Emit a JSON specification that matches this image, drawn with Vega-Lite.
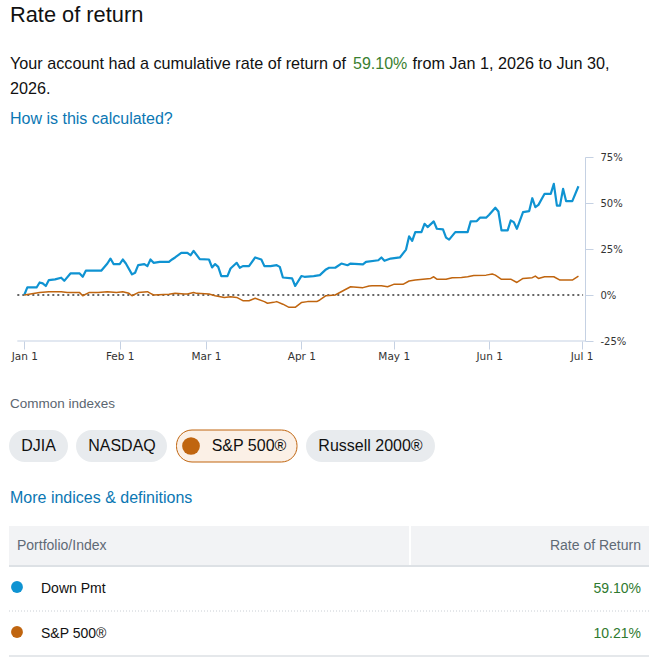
{
  "$schema": "https://vega.github.io/schema/vega-lite/v6.json",
  "background": "white",
  "padding": 0,
  "spacing": 0,
  "bounds": "flush",
  "config": {"view": {"stroke": null}, "text": {"font": "Liberation Sans"}},
  "datasets": {
    "header": [
      {"text": "Rate of return", "line": 0, "seg": 0, "kind": "title"},
      {"text": "Your account had a cumulative rate of return of", "line": 1, "seg": 0, "kind": "body"},
      {"text": "59.10%", "line": 1, "seg": 1, "kind": "gain"},
      {"text": "from Jan 1, 2026 to Jun 30,", "line": 1, "seg": 2, "kind": "body"},
      {"text": "2026.", "line": 2, "seg": 0, "kind": "body"},
      {"text": "How is this calculated?", "line": 3, "seg": 0, "kind": "link"}
    ],
    "returns": [
      {"series": "Down Pmt", "date": "2026-01-01", "value": 0},
      {"series": "Down Pmt", "date": "2026-01-02", "value": 4.1},
      {"series": "Down Pmt", "date": "2026-01-05", "value": 4.1},
      {"series": "Down Pmt", "date": "2026-01-06", "value": 6.8},
      {"series": "Down Pmt", "date": "2026-01-07", "value": 6.3},
      {"series": "Down Pmt", "date": "2026-01-08", "value": 4.9},
      {"series": "Down Pmt", "date": "2026-01-09", "value": 8.1},
      {"series": "Down Pmt", "date": "2026-01-11", "value": 8.5},
      {"series": "Down Pmt", "date": "2026-01-13", "value": 9.4},
      {"series": "Down Pmt", "date": "2026-01-14", "value": 7.7},
      {"series": "Down Pmt", "date": "2026-01-16", "value": 11.7},
      {"series": "Down Pmt", "date": "2026-01-19", "value": 11.7},
      {"series": "Down Pmt", "date": "2026-01-20", "value": 9.9},
      {"series": "Down Pmt", "date": "2026-01-21", "value": 13.2},
      {"series": "Down Pmt", "date": "2026-01-26", "value": 13.2},
      {"series": "Down Pmt", "date": "2026-01-28", "value": 17.1},
      {"series": "Down Pmt", "date": "2026-01-29", "value": 19.8},
      {"series": "Down Pmt", "date": "2026-01-30", "value": 16.8},
      {"series": "Down Pmt", "date": "2026-02-01", "value": 16.8},
      {"series": "Down Pmt", "date": "2026-02-02", "value": 19.3},
      {"series": "Down Pmt", "date": "2026-02-03", "value": 17.1},
      {"series": "Down Pmt", "date": "2026-02-05", "value": 11.2},
      {"series": "Down Pmt", "date": "2026-02-06", "value": 12.1},
      {"series": "Down Pmt", "date": "2026-02-07", "value": 16.2},
      {"series": "Down Pmt", "date": "2026-02-09", "value": 16.8},
      {"series": "Down Pmt", "date": "2026-02-10", "value": 15.7},
      {"series": "Down Pmt", "date": "2026-02-11", "value": 19.3},
      {"series": "Down Pmt", "date": "2026-02-12", "value": 17.5},
      {"series": "Down Pmt", "date": "2026-02-14", "value": 18.0},
      {"series": "Down Pmt", "date": "2026-02-17", "value": 18.0},
      {"series": "Down Pmt", "date": "2026-02-18", "value": 19.3},
      {"series": "Down Pmt", "date": "2026-02-19", "value": 20.4},
      {"series": "Down Pmt", "date": "2026-02-21", "value": 22.9},
      {"series": "Down Pmt", "date": "2026-02-23", "value": 22.9},
      {"series": "Down Pmt", "date": "2026-02-24", "value": 21.6},
      {"series": "Down Pmt", "date": "2026-02-25", "value": 24.0},
      {"series": "Down Pmt", "date": "2026-02-27", "value": 19.5},
      {"series": "Down Pmt", "date": "2026-03-02", "value": 19.3},
      {"series": "Down Pmt", "date": "2026-03-03", "value": 15.0},
      {"series": "Down Pmt", "date": "2026-03-04", "value": 16.8},
      {"series": "Down Pmt", "date": "2026-03-05", "value": 15.3},
      {"series": "Down Pmt", "date": "2026-03-06", "value": 10.3},
      {"series": "Down Pmt", "date": "2026-03-08", "value": 10.3},
      {"series": "Down Pmt", "date": "2026-03-09", "value": 14.4},
      {"series": "Down Pmt", "date": "2026-03-11", "value": 17.5},
      {"series": "Down Pmt", "date": "2026-03-12", "value": 14.8},
      {"series": "Down Pmt", "date": "2026-03-13", "value": 15.7},
      {"series": "Down Pmt", "date": "2026-03-15", "value": 15.7},
      {"series": "Down Pmt", "date": "2026-03-17", "value": 20.4},
      {"series": "Down Pmt", "date": "2026-03-19", "value": 19.3},
      {"series": "Down Pmt", "date": "2026-03-20", "value": 15.7},
      {"series": "Down Pmt", "date": "2026-03-22", "value": 15.7},
      {"series": "Down Pmt", "date": "2026-03-24", "value": 16.2},
      {"series": "Down Pmt", "date": "2026-03-25", "value": 15.3},
      {"series": "Down Pmt", "date": "2026-03-26", "value": 9.5},
      {"series": "Down Pmt", "date": "2026-03-29", "value": 9.0},
      {"series": "Down Pmt", "date": "2026-03-30", "value": 4.9},
      {"series": "Down Pmt", "date": "2026-04-01", "value": 10.3},
      {"series": "Down Pmt", "date": "2026-04-02", "value": 9.9},
      {"series": "Down Pmt", "date": "2026-04-05", "value": 10.3},
      {"series": "Down Pmt", "date": "2026-04-07", "value": 10.8},
      {"series": "Down Pmt", "date": "2026-04-09", "value": 13.9},
      {"series": "Down Pmt", "date": "2026-04-10", "value": 14.8},
      {"series": "Down Pmt", "date": "2026-04-12", "value": 14.8},
      {"series": "Down Pmt", "date": "2026-04-14", "value": 17.1},
      {"series": "Down Pmt", "date": "2026-04-16", "value": 16.2},
      {"series": "Down Pmt", "date": "2026-04-17", "value": 17.1},
      {"series": "Down Pmt", "date": "2026-04-21", "value": 16.6},
      {"series": "Down Pmt", "date": "2026-04-22", "value": 18.0},
      {"series": "Down Pmt", "date": "2026-04-26", "value": 18.9},
      {"series": "Down Pmt", "date": "2026-04-27", "value": 20.4},
      {"series": "Down Pmt", "date": "2026-04-28", "value": 18.6},
      {"series": "Down Pmt", "date": "2026-04-30", "value": 19.8},
      {"series": "Down Pmt", "date": "2026-05-03", "value": 20.4},
      {"series": "Down Pmt", "date": "2026-05-05", "value": 24.7},
      {"series": "Down Pmt", "date": "2026-05-06", "value": 31.9},
      {"series": "Down Pmt", "date": "2026-05-07", "value": 29.4},
      {"series": "Down Pmt", "date": "2026-05-08", "value": 34.2},
      {"series": "Down Pmt", "date": "2026-05-10", "value": 34.2},
      {"series": "Down Pmt", "date": "2026-05-11", "value": 38.7},
      {"series": "Down Pmt", "date": "2026-05-12", "value": 36.9},
      {"series": "Down Pmt", "date": "2026-05-14", "value": 40.0},
      {"series": "Down Pmt", "date": "2026-05-15", "value": 36.0},
      {"series": "Down Pmt", "date": "2026-05-17", "value": 35.7},
      {"series": "Down Pmt", "date": "2026-05-18", "value": 31.2},
      {"series": "Down Pmt", "date": "2026-05-19", "value": 30.1},
      {"series": "Down Pmt", "date": "2026-05-21", "value": 34.2},
      {"series": "Down Pmt", "date": "2026-05-25", "value": 34.2},
      {"series": "Down Pmt", "date": "2026-05-26", "value": 40.0},
      {"series": "Down Pmt", "date": "2026-05-28", "value": 40.2},
      {"series": "Down Pmt", "date": "2026-05-29", "value": 42.0},
      {"series": "Down Pmt", "date": "2026-05-31", "value": 42.0},
      {"series": "Down Pmt", "date": "2026-06-01", "value": 43.6},
      {"series": "Down Pmt", "date": "2026-06-03", "value": 47.4},
      {"series": "Down Pmt", "date": "2026-06-04", "value": 45.4},
      {"series": "Down Pmt", "date": "2026-06-05", "value": 35.1},
      {"series": "Down Pmt", "date": "2026-06-07", "value": 35.1},
      {"series": "Down Pmt", "date": "2026-06-08", "value": 40.5},
      {"series": "Down Pmt", "date": "2026-06-09", "value": 39.6},
      {"series": "Down Pmt", "date": "2026-06-10", "value": 36.0},
      {"series": "Down Pmt", "date": "2026-06-12", "value": 45.0},
      {"series": "Down Pmt", "date": "2026-06-14", "value": 45.6},
      {"series": "Down Pmt", "date": "2026-06-15", "value": 52.6},
      {"series": "Down Pmt", "date": "2026-06-16", "value": 47.7},
      {"series": "Down Pmt", "date": "2026-06-17", "value": 49.0},
      {"series": "Down Pmt", "date": "2026-06-19", "value": 55.0},
      {"series": "Down Pmt", "date": "2026-06-21", "value": 55.0},
      {"series": "Down Pmt", "date": "2026-06-22", "value": 60.4},
      {"series": "Down Pmt", "date": "2026-06-23", "value": 48.6},
      {"series": "Down Pmt", "date": "2026-06-24", "value": 48.6},
      {"series": "Down Pmt", "date": "2026-06-25", "value": 57.7},
      {"series": "Down Pmt", "date": "2026-06-26", "value": 51.0},
      {"series": "Down Pmt", "date": "2026-06-28", "value": 51.0},
      {"series": "Down Pmt", "date": "2026-06-30", "value": 59.1},
      {"series": "S&P 500®", "date": "2026-01-01", "value": 0},
      {"series": "S&P 500®", "date": "2026-01-06", "value": 1.3},
      {"series": "S&P 500®", "date": "2026-01-09", "value": 1.8},
      {"series": "S&P 500®", "date": "2026-01-13", "value": 1.8},
      {"series": "S&P 500®", "date": "2026-01-15", "value": 1.3},
      {"series": "S&P 500®", "date": "2026-01-19", "value": 1.3},
      {"series": "S&P 500®", "date": "2026-01-20", "value": -0.4},
      {"series": "S&P 500®", "date": "2026-01-22", "value": 1.3},
      {"series": "S&P 500®", "date": "2026-01-25", "value": 1.3},
      {"series": "S&P 500®", "date": "2026-01-28", "value": 1.8},
      {"series": "S&P 500®", "date": "2026-01-31", "value": 1.4},
      {"series": "S&P 500®", "date": "2026-02-02", "value": 1.8},
      {"series": "S&P 500®", "date": "2026-02-04", "value": 0.9},
      {"series": "S&P 500®", "date": "2026-02-05", "value": -0.4},
      {"series": "S&P 500®", "date": "2026-02-07", "value": 1.3},
      {"series": "S&P 500®", "date": "2026-02-10", "value": 1.8},
      {"series": "S&P 500®", "date": "2026-02-11", "value": 0.9},
      {"series": "S&P 500®", "date": "2026-02-12", "value": 0},
      {"series": "S&P 500®", "date": "2026-02-17", "value": 0.4},
      {"series": "S&P 500®", "date": "2026-02-19", "value": 0.9},
      {"series": "S&P 500®", "date": "2026-02-22", "value": 0.5},
      {"series": "S&P 500®", "date": "2026-02-23", "value": 0.5},
      {"series": "S&P 500®", "date": "2026-02-25", "value": 1.4},
      {"series": "S&P 500®", "date": "2026-02-26", "value": 0.9},
      {"series": "S&P 500®", "date": "2026-03-02", "value": 0.5},
      {"series": "S&P 500®", "date": "2026-03-04", "value": -0.4},
      {"series": "S&P 500®", "date": "2026-03-07", "value": -1.3},
      {"series": "S&P 500®", "date": "2026-03-09", "value": -0.9},
      {"series": "S&P 500®", "date": "2026-03-11", "value": -1.3},
      {"series": "S&P 500®", "date": "2026-03-13", "value": -3.1},
      {"series": "S&P 500®", "date": "2026-03-15", "value": -3.1},
      {"series": "S&P 500®", "date": "2026-03-17", "value": -1.8},
      {"series": "S&P 500®", "date": "2026-03-20", "value": -3.6},
      {"series": "S&P 500®", "date": "2026-03-21", "value": -4.5},
      {"series": "S&P 500®", "date": "2026-03-23", "value": -4.0},
      {"series": "S&P 500®", "date": "2026-03-24", "value": -3.6},
      {"series": "S&P 500®", "date": "2026-03-26", "value": -5.0},
      {"series": "S&P 500®", "date": "2026-03-28", "value": -6.7},
      {"series": "S&P 500®", "date": "2026-03-30", "value": -6.7},
      {"series": "S&P 500®", "date": "2026-04-01", "value": -4.1},
      {"series": "S&P 500®", "date": "2026-04-03", "value": -3.6},
      {"series": "S&P 500®", "date": "2026-04-06", "value": -3.6},
      {"series": "S&P 500®", "date": "2026-04-07", "value": -2.7},
      {"series": "S&P 500®", "date": "2026-04-09", "value": -0.4},
      {"series": "S&P 500®", "date": "2026-04-12", "value": 0},
      {"series": "S&P 500®", "date": "2026-04-15", "value": 2.7},
      {"series": "S&P 500®", "date": "2026-04-17", "value": 4.5},
      {"series": "S&P 500®", "date": "2026-04-21", "value": 4.0},
      {"series": "S&P 500®", "date": "2026-04-23", "value": 4.9},
      {"series": "S&P 500®", "date": "2026-04-24", "value": 5.0},
      {"series": "S&P 500®", "date": "2026-04-27", "value": 5.0},
      {"series": "S&P 500®", "date": "2026-04-29", "value": 4.5},
      {"series": "S&P 500®", "date": "2026-05-01", "value": 5.8},
      {"series": "S&P 500®", "date": "2026-05-04", "value": 5.8},
      {"series": "S&P 500®", "date": "2026-05-06", "value": 7.6},
      {"series": "S&P 500®", "date": "2026-05-08", "value": 8.1},
      {"series": "S&P 500®", "date": "2026-05-13", "value": 9.0},
      {"series": "S&P 500®", "date": "2026-05-14", "value": 9.9},
      {"series": "S&P 500®", "date": "2026-05-15", "value": 8.6},
      {"series": "S&P 500®", "date": "2026-05-18", "value": 8.6},
      {"series": "S&P 500®", "date": "2026-05-20", "value": 9.4},
      {"series": "S&P 500®", "date": "2026-05-23", "value": 9.5},
      {"series": "S&P 500®", "date": "2026-05-25", "value": 9.9},
      {"series": "S&P 500®", "date": "2026-05-27", "value": 10.6},
      {"series": "S&P 500®", "date": "2026-05-31", "value": 10.8},
      {"series": "S&P 500®", "date": "2026-06-02", "value": 11.4},
      {"series": "S&P 500®", "date": "2026-06-03", "value": 10.8},
      {"series": "S&P 500®", "date": "2026-06-05", "value": 8.5},
      {"series": "S&P 500®", "date": "2026-06-08", "value": 8.6},
      {"series": "S&P 500®", "date": "2026-06-10", "value": 6.8},
      {"series": "S&P 500®", "date": "2026-06-12", "value": 9.0},
      {"series": "S&P 500®", "date": "2026-06-15", "value": 9.4},
      {"series": "S&P 500®", "date": "2026-06-16", "value": 10.3},
      {"series": "S&P 500®", "date": "2026-06-17", "value": 9.0},
      {"series": "S&P 500®", "date": "2026-06-19", "value": 9.9},
      {"series": "S&P 500®", "date": "2026-06-22", "value": 9.9},
      {"series": "S&P 500®", "date": "2026-06-24", "value": 8.1},
      {"series": "S&P 500®", "date": "2026-06-28", "value": 8.1},
      {"series": "S&P 500®", "date": "2026-06-30", "value": 10.21}
    ],
    "chips": [
      {"label": "DJIA", "edgeStart": 0, "edgeEnd": 1, "selected": false},
      {"label": "NASDAQ", "edgeStart": 2, "edgeEnd": 3, "selected": false},
      {"label": "S&P 500®", "edgeStart": 4, "edgeEnd": 5, "selected": true},
      {"label": "Russell 2000®", "edgeStart": 6, "edgeEnd": 7, "selected": false}
    ],
    "footerText": [
      {"text": "Common indexes", "row": -3, "col": 0, "kind": "caption"},
      {"text": "More indices & definitions", "row": -1, "col": 0, "kind": "link"}
    ],
    "tableHead": [
      {"label": "Portfolio/Index", "row": 0, "col": 0},
      {"label": "Rate of Return", "row": 0, "col": 3}
    ],
    "table": [
      {"series": "Down Pmt", "ret": 0.591, "row": 1},
      {"series": "S&P 500®", "ret": 0.1021, "row": 2}
    ]
  },
  "vconcat": [
    {
      "width": 660,
      "height": 157,
      "data": {"name": "header"},
      "encoding": {
        "x": {"field": "seg", "type": "quantitative", "scale": {"domain": [0, 1, 2], "range": [10, 353, 412.5], "zero": false, "nice": false}, "axis": null},
        "y": {"field": "line", "type": "quantitative", "scale": {"domain": [0, 1, 2, 3], "range": [22, 69, 94, 124], "zero": false, "nice": false}, "axis": null},
        "text": {"field": "text", "type": "nominal"}
      },
      "layer": [
        {"transform": [{"filter": "datum.kind === 'title'"}], "mark": {"type": "text", "align": "left", "baseline": "alphabetic", "fontSize": 21.8, "color": "#111111"}},
        {"transform": [{"filter": "datum.kind === 'body'"}], "mark": {"type": "text", "align": "left", "baseline": "alphabetic", "fontSize": 16.2, "color": "#111111"}},
        {"transform": [{"filter": "datum.kind === 'gain'"}], "mark": {"type": "text", "align": "left", "baseline": "alphabetic", "fontSize": 16, "color": "#3a8030"}},
        {"transform": [{"filter": "datum.kind === 'link'"}], "mark": {"type": "text", "align": "left", "baseline": "alphabetic", "fontSize": 16, "color": "#0b77b3"}}
      ]
    },
    {
      "width": 585,
      "height": 184,
      "layer": [
        {
          "data": {"values": [{"guide": "x baseline"}]},
          "mark": {"type": "rule", "color": "#c5d1e3", "strokeWidth": 1},
          "encoding": {
            "x": {"datum": {"year": 2025, "month": 12, "date": 29, "hours": 18, "utc": true}, "type": "temporal"},
            "x2": {"datum": {"year": 2026, "month": 7, "date": 2, "hours": 3, "utc": true}},
            "y": {"datum": -25, "type": "quantitative"}
          }
        },
        {
          "data": {"values": [{"guide": "zero"}]},
          "mark": {"type": "rule", "color": "#666666", "strokeWidth": 2, "strokeDash": [2, 3]},
          "encoding": {
            "x": {"datum": {"year": 2025, "month": 12, "date": 29, "hours": 18, "utc": true}, "type": "temporal"},
            "x2": {"datum": {"year": 2026, "month": 7, "date": 1, "hours": 12, "utc": true}},
            "y": {"datum": 0, "type": "quantitative"}
          }
        },
        {
          "data": {"name": "returns"},
          "mark": {"type": "line", "strokeJoin": "round"},
          "encoding": {
            "x": {
              "field": "date", "type": "temporal",
              "scale": {"type": "utc", "domain": [{"year": 2025, "month": 12, "date": 24, "hours": 3, "utc": true}, {"year": 2026, "month": 7, "date": 2, "hours": 3, "utc": true}]},
              "axis": {
                "title": null, "grid": false, "domain": false, "ticks": true, "tickSize": 8, "tickColor": "#c5d1e3",
                "values": [
                  {"year": 2026, "month": 1, "date": 1, "utc": true},
                  {"year": 2026, "month": 2, "date": 1, "utc": true},
                  {"year": 2026, "month": 3, "date": 1, "utc": true},
                  {"year": 2026, "month": 4, "date": 1, "utc": true},
                  {"year": 2026, "month": 5, "date": 1, "utc": true},
                  {"year": 2026, "month": 6, "date": 1, "utc": true},
                  {"year": 2026, "month": 7, "date": 1, "utc": true}
                ],
                "format": "%b %-d", "labelFont": "DejaVu Sans", "labelFontSize": 10.5, "labelColor": "#333333",
                "labelPadding": 2, "labelFlush": false, "labelOverlap": false
              }
            },
            "y": {
              "field": "value", "type": "quantitative",
              "scale": {"domain": [-25, 75], "nice": false, "zero": false},
              "axis": {
                "orient": "right", "title": null, "grid": false, "values": [-25, 0, 25, 50, 75],
                "labelExpr": "datum.value + '%'", "domainColor": "#c5d1e3", "tickColor": "#c5d1e3", "tickSize": 8,
                "labelPadding": 7, "labelFont": "DejaVu Sans", "labelFontSize": 10, "labelColor": "#333333",
                "labelFlush": false, "labelOverlap": false
              }
            },
            "color": {"field": "series", "type": "nominal", "scale": {"domain": ["Down Pmt", "S&P 500®"], "range": ["#0f93d2", "#c0650f"]}, "legend": null},
            "strokeWidth": {"field": "series", "type": "nominal", "scale": {"domain": ["Down Pmt", "S&P 500®"], "range": [2.2, 1.5]}, "legend": null}
          }
        }
      ]
    },
    {
      "width": 660,
      "height": 328,
      "resolve": {"scale": {"x": "independent"}},
      "layer": [
        {
          "data": {"name": "footerText"},
          "encoding": {
            "x": {"field": "col", "type": "quantitative", "scale": {"domain": [0, 1], "range": [10, 650], "zero": false, "nice": false}, "axis": null},
            "y": {"field": "row", "type": "quantitative", "scale": {"domain": [-3, -2.5, -2, -1.5, -1, -0.5, 0, 0.5, 1, 1.5, 2, 2.5], "range": [61, 89, 105, 121, 156, 185, 203, 225, 246, 270, 291, 315], "zero": false, "nice": false}, "axis": null},
            "text": {"field": "text", "type": "nominal"}
          },
          "layer": [
            {"transform": [{"filter": "datum.kind === 'caption'"}], "mark": {"type": "text", "align": "left", "baseline": "alphabetic", "dy": 6, "fontSize": 13.5, "color": "#5b6670"}},
            {"transform": [{"filter": "datum.kind === 'link'"}], "mark": {"type": "text", "align": "left", "baseline": "alphabetic", "dy": 6, "fontSize": 16, "color": "#0b77b3"}}
          ]
        },
        {
          "data": {"name": "chips"},
          "resolve": {"scale": {"x": "independent"}},
          "layer": [
            {
              "transform": [{"filter": "!datum.selected"}],
              "mark": {"type": "rect", "cornerRadius": 16, "color": "#e8ebee"},
              "encoding": {
                "x": {"field": "edgeStart", "type": "quantitative", "scale": {"domain": [0, 1, 2, 3, 4, 5, 6, 7], "range": [9, 68, 76, 167, 176, 297, 306, 435], "zero": false, "nice": false}, "axis": null},
                "x2": {"field": "edgeEnd"},
                "y": {"datum": -2.5, "type": "quantitative", "scale": {"domain": [-3, -2.5, -2, -1.5, -1, -0.5, 0, 0.5, 1, 1.5, 2, 2.5], "range": [61, 89, 105, 121, 156, 185, 203, 225, 246, 270, 291, 315], "zero": false, "nice": false}, "axis": null},
                "y2": {"datum": -1.5}
              }
            },
            {
              "transform": [{"filter": "datum.selected"}],
              "mark": {"type": "rect", "cornerRadius": 15.5, "fill": "#fbf0e6", "stroke": "#c0650f", "strokeWidth": 1},
              "encoding": {
                "x": {"field": "edgeStart", "type": "quantitative", "scale": {"domain": [0, 1, 2, 3, 4, 5, 6, 7], "range": [9, 68, 76, 167, 176.5, 297, 306, 435], "zero": false, "nice": false}, "axis": null},
                "x2": {"field": "edgeEnd"},
                "y": {"datum": -2.5, "type": "quantitative", "scale": {"domain": [-3, -2.5, -2, -1.5, -1, -0.5, 0, 0.5, 1, 1.5, 2, 2.5], "range": [61, 89, 105, 121, 156, 185, 203, 225, 246, 270, 291, 315], "zero": false, "nice": false}, "axis": null},
                "y2": {"datum": -1.5}
              }
            },
            {
              "transform": [{"filter": "datum.selected"}],
              "mark": {"type": "circle", "size": 314, "color": "#c0650f", "opacity": 1},
              "encoding": {
                "x": {"field": "edgeStart", "type": "quantitative", "scale": {"domain": [0, 2, 4, 6], "range": [22, 88, 191, 319], "zero": false, "nice": false}, "axis": null},
                "y": {"datum": -2, "type": "quantitative", "scale": {"domain": [-3, -2.5, -2, -1.5, -1, -0.5, 0, 0.5, 1, 1.5, 2, 2.5], "range": [61, 89, 105, 121, 156, 185, 203, 225, 246, 270, 291, 315], "zero": false, "nice": false}, "axis": null}
              }
            },
            {
              "mark": {"type": "text", "align": "center", "baseline": "alphabetic", "dy": 5, "fontSize": 16, "color": "#111111"},
              "encoding": {
                "x": {"field": "edgeStart", "type": "quantitative", "scale": {"domain": [0, 2, 4, 6], "range": [38.5, 122, 249, 370.5], "zero": false, "nice": false}, "axis": null},
                "y": {"datum": -2, "type": "quantitative", "scale": {"domain": [-3, -2.5, -2, -1.5, -1, -0.5, 0, 0.5, 1, 1.5, 2, 2.5], "range": [61, 89, 105, 121, 156, 185, 203, 225, 246, 270, 291, 315], "zero": false, "nice": false}, "axis": null},
                "text": {"field": "label", "type": "nominal"}
              }
            }
          ]
        },
        {
          "layer": [
            {
              "data": {"values": [{"part": "header background"}]},
              "mark": {"type": "rect", "color": "#f2f3f5"},
              "encoding": {
                "x": {"datum": -1, "type": "quantitative", "scale": {"domain": [-1, 0, 1, 2, 3, 4], "range": [9, 17, 41, 410, 641, 649], "zero": false, "nice": false}, "axis": null},
                "x2": {"datum": 4},
                "y": {"datum": -0.5, "type": "quantitative", "scale": {"domain": [-3, -2.5, -2, -1.5, -1, -0.5, 0, 0.5, 1, 1.5, 2, 2.5], "range": [61, 89, 105, 121, 156, 185, 203, 225, 246, 270, 291, 315], "zero": false, "nice": false}, "axis": null},
                "y2": {"datum": 0.5}
              }
            },
            {
              "data": {"values": [{"part": "column divider"}]},
              "mark": {"type": "rule", "color": "#ffffff", "strokeWidth": 2},
              "encoding": {
                "x": {"datum": 2, "type": "quantitative"},
                "y": {"datum": -0.5, "type": "quantitative"},
                "y2": {"datum": 0.5}
              }
            },
            {
              "data": {"values": [{"part": "header border"}]},
              "mark": {"type": "rule", "color": "#dde1e5", "strokeWidth": 2},
              "encoding": {
                "x": {"datum": -1, "type": "quantitative"},
                "x2": {"datum": 4},
                "y": {"datum": 0.5, "type": "quantitative"}
              }
            },
            {
              "data": {"values": [{"part": "row separator"}]},
              "mark": {"type": "rule", "color": "#c9ced4", "strokeWidth": 1, "strokeDash": [1, 2]},
              "encoding": {
                "x": {"datum": -1, "type": "quantitative"},
                "x2": {"datum": 4},
                "y": {"datum": 1.5, "type": "quantitative"}
              }
            },
            {
              "data": {"values": [{"part": "table bottom"}]},
              "mark": {"type": "rule", "color": "#dde1e5", "strokeWidth": 1.5},
              "encoding": {
                "x": {"datum": -1, "type": "quantitative"},
                "x2": {"datum": 4},
                "y": {"datum": 2.5, "type": "quantitative"}
              }
            },
            {
              "data": {"name": "tableHead"},
              "transform": [{"filter": "datum.col === 0"}],
              "mark": {"type": "text", "align": "left", "baseline": "alphabetic", "dy": 6, "fontSize": 14, "color": "#5f6a75"},
              "encoding": {
                "x": {"field": "col", "type": "quantitative"},
                "y": {"field": "row", "type": "quantitative"},
                "text": {"field": "label", "type": "nominal"}
              }
            },
            {
              "data": {"name": "tableHead"},
              "transform": [{"filter": "datum.col === 3"}],
              "mark": {"type": "text", "align": "right", "baseline": "alphabetic", "dy": 6, "fontSize": 14, "color": "#5f6a75"},
              "encoding": {
                "x": {"field": "col", "type": "quantitative"},
                "y": {"field": "row", "type": "quantitative"},
                "text": {"field": "label", "type": "nominal"}
              }
            },
            {
              "data": {"name": "table"},
              "mark": {"type": "circle", "size": 140, "opacity": 1},
              "encoding": {
                "x": {"datum": 0, "type": "quantitative"},
                "y": {"field": "row", "type": "quantitative"},
                "color": {"field": "series", "type": "nominal", "scale": {"domain": ["Down Pmt", "S&P 500®"], "range": ["#0b8fd0", "#c0650f"]}, "legend": null}
              }
            },
            {
              "data": {"name": "table"},
              "mark": {"type": "text", "align": "left", "baseline": "alphabetic", "dy": 6, "fontSize": 14, "color": "#111111"},
              "encoding": {
                "x": {"datum": 1, "type": "quantitative"},
                "y": {"field": "row", "type": "quantitative"},
                "text": {"field": "series", "type": "nominal"}
              }
            },
            {
              "data": {"name": "table"},
              "mark": {"type": "text", "align": "right", "baseline": "alphabetic", "dy": 6, "fontSize": 14, "color": "#2f7a2f"},
              "encoding": {
                "x": {"datum": 3, "type": "quantitative"},
                "y": {"field": "row", "type": "quantitative"},
                "text": {"field": "ret", "type": "quantitative", "format": ".2%"}
              }
            }
          ]
        }
      ]
    }
  ]
}
